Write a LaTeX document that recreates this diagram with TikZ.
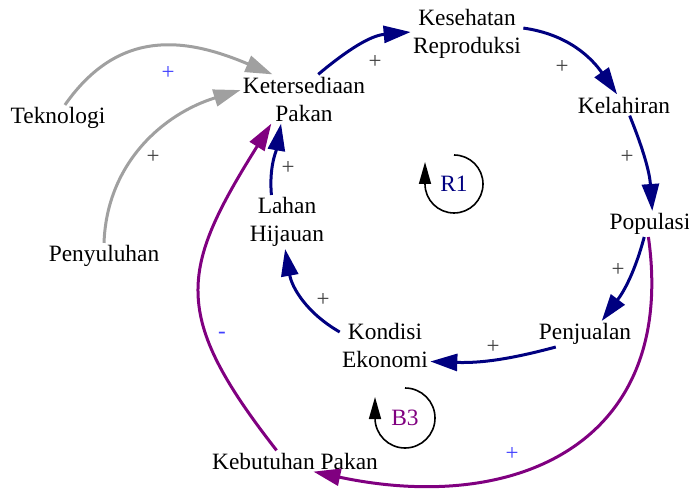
\documentclass[tikz,border=0pt]{standalone}
\usepackage{fontspec}
\setmainfont{Liberation Serif}
\usetikzlibrary{arrows.meta}
\definecolor{cnavy}{RGB}{0,0,128}
\definecolor{cpurple}{RGB}{128,0,128}
\definecolor{cgray}{RGB}{160,160,160}
\definecolor{cblue}{RGB}{64,64,255}
\definecolor{cdark}{RGB}{64,64,64}
\begin{document}
\begin{tikzpicture}[x=0.5pt,y=-0.5pt,
  var/.style={inner sep=1pt,align=center,font=\fontsize{11.7}{14}\selectfont},
  lnk/.style={line width=1.5pt,-{Triangle[length=13.5pt,width=8.5pt]}},
  plab/.style={font=\fontsize{11.5}{12}\selectfont,text=cdark,inner sep=0pt},
  bplab/.style={font=\fontsize{11.5}{12}\selectfont,text=cblue,inner sep=0pt},
  loopln/.style={line width=0.8pt,-{Triangle[length=11pt,width=6pt]}},
  looplab/.style={font=\fontsize{11.7}{14}\selectfont,inner sep=0pt}]
\useasboundingbox (0,0) rectangle (689,496);
% variables
\node[var] (tek) at (58,118) {Teknologi};
\node[var] (ket) at (304,99) {Ketersediaan\\Pakan};
\node[var] (kes) at (467,34) {Kesehatan\\Reproduksi};
\node[var] (kel) at (624,105) {Kelahiran};
\node[var] (pop) at (650,224) {Populasi};
\node[var] (penj) at (585,334) {Penjualan};
\node[var] (kon) at (385,345) {Kondisi\\Ekonomi};
\node[var] (lah) at (287,222) {Lahan\\Hijauan};
\node[var] (peny) at (104,256) {Penyuluhan};
\node[var] (keb) at (295,461) {Kebutuhan Pakan};
% links
\draw[lnk,cgray] (tek.62) to[out=55,in=157,looseness=1.15] (ket.142);
\draw[lnk,cgray] (peny.90) to[out=88,in=197] (ket.172);
\draw[lnk,cnavy] (lah.120) to[out=95,in=260] (ket.227);
\draw[lnk,cpurple] (keb.150) to[out=128,in=238,looseness=1.35] (ket.217);
\draw[lnk,cnavy] (ket.60) to[out=40,in=185] (kes.178);
\draw[lnk,cnavy] (kes.6) to[out=-8,in=125] (kel.123);
\draw[lnk,cnavy] (kel.298) to[out=-68,in=94] (pop.80);
\draw[lnk,cnavy] (pop.246) to[out=-105,in=53] (penj.38);
\draw[lnk,cnavy] (penj.204) to[out=195,in=-2] (kon.340);
\draw[lnk,cnavy] (kon.164) to[out=150,in=-80] (lah.266);
\draw[lnk,cpurple] (pop.263) to[out=-82,in=-12,looseness=1.3] (keb.330);
% polarity labels
\node[bplab] (p1) at (168,73) {+};
\node[plab] (p2) at (153,157) {+};
\node[plab] (p3) at (288,168) {+};
\node[bplab] (p4) at (222,335) {-};
\node[plab] (p5) at (375,62) {+};
\node[plab] (p6) at (562,67) {+};
\node[plab] (p7) at (627,157) {+};
\node[plab] (p8) at (618,270) {+};
\node[plab] (p9) at (493,347) {+};
\node[plab] (p10) at (323,300) {+};
\node[bplab] (p11) at (512,454) {+};
% loops
\node[looplab,text=cnavy] (r1) at (454,184) {R1};
\draw[loopln] (454,155) arc[start angle=90,end angle=-180,radius=14.5pt] -- ++(0,-22);
\node[looplab,text=cpurple] (b3) at (405,418) {B3};
\draw[loopln] (405,388) arc[start angle=90,end angle=-180,radius=15pt] -- ++(0,-21);
\end{tikzpicture}
\end{document}
